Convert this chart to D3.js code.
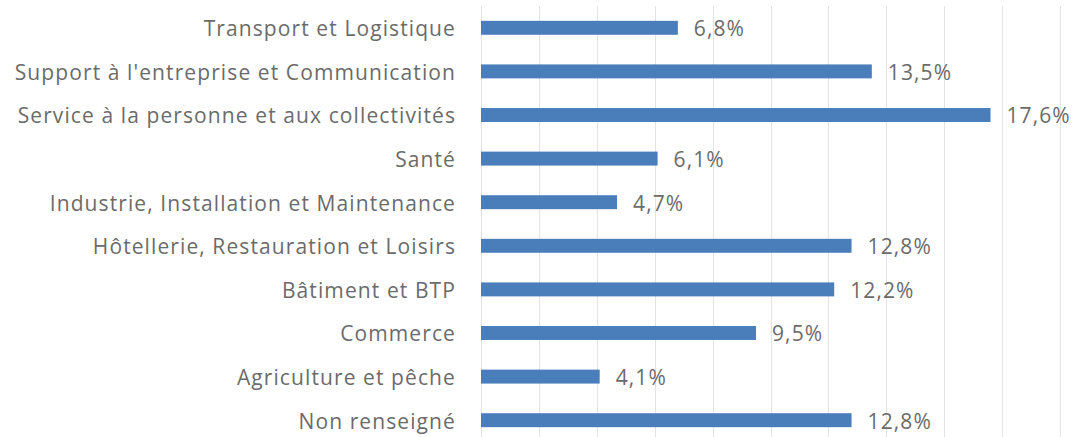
<!DOCTYPE html>
<html>
<head>
<meta charset="utf-8">
<script src="https://cdn.jsdelivr.net/npm/d3@7"></script>
<style>
  body { margin: 0; background: #fff; }
  text { font-family: "Open Sans", sans-serif; fill: #6b6b6b; }
</style>
</head>
<body>
<div id="content"></div>
<script>
// categories from top to bottom, as drawn
var categories = [
    'Transport et Logistique',
    "Support à l'entreprise et Communication",
    'Service à la personne et aux collectivités',
    'Santé',
    'Industrie, Installation et Maintenance',
    'Hôtellerie, Restauration et Loisirs',
    'Bâtiment et BTP',
    'Commerce',
    'Agriculture et pêche',
    'Non renseigné'
];
var values = [6.8, 13.5, 17.6, 6.1, 4.7, 12.8, 12.2, 9.5, 4.1, 12.8];
var gridTicks = [0, 2, 4, 6, 8, 10, 12, 14, 16, 18, 20];

var width = 1084, height = 437;
var svg = d3.select('#content').append('svg')
    .attr('width', width)
    .attr('height', height);

var x = d3.scaleLinear().domain([0, 20]).range([481, 1060]);
var y = d3.scaleBand().domain(categories).range([6, 442]).paddingInner(0.68).paddingOuter(0.34);

// vertical gridlines
svg.selectAll('line.grid')
    .data(gridTicks)
    .enter().append('line')
    .attr('class', 'grid')
    .attr('x1', function(d) { return Math.round(x(d)) + 0.5; })
    .attr('x2', function(d) { return Math.round(x(d)) + 0.5; })
    .attr('y1', 6)
    .attr('y2', height)
    .attr('stroke', '#e3e3e3')
    .attr('stroke-width', 1);

var rows = categories.map(function(c, i) { return { cat: c, val: values[i] }; });

svg.selectAll('rect.bar')
    .data(rows)
    .enter().append('rect')
    .attr('class', 'bar')
    .attr('x', x(0))
    .attr('y', function(d) { return y(d.cat); })
    .attr('width', function(d) { return x(d.val) - x(0); })
    .attr('height', y.bandwidth())
    .attr('fill', '#4a7ebb');

// category labels on the left
svg.selectAll('text.cat')
    .data(rows)
    .enter().append('text')
    .attr('class', 'cat')
    .attr('x', 456)
    .attr('y', function(d) { return y(d.cat) + y.bandwidth() / 2 + 1; })
    .attr('dy', '0.35em')
    .attr('text-anchor', 'end')
    .style('font-size', '21px')
    .style('letter-spacing', '1.1px')
    .text(function(d) { return d.cat; });

// value labels
svg.selectAll('text.val')
    .data(rows)
    .enter().append('text')
    .attr('class', 'val')
    .attr('x', function(d) { return x(d.val) + 16; })
    .attr('y', function(d) { return y(d.cat) + y.bandwidth() / 2 + 1; })
    .attr('dy', '0.35em')
    .style('font-size', '21px')
    .style('letter-spacing', '1.1px')
    .text(function(d) { return String(d.val).replace('.', ',') + '%'; });
</script>
</body>
</html>
